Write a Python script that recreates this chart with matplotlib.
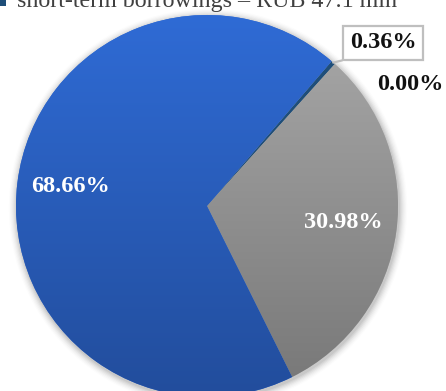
import numpy as np
import matplotlib
matplotlib.use("Agg")
import matplotlib.pyplot as plt
from matplotlib.patches import Circle, Rectangle

# Structure of borrowings, % of total
shares = [30.98, 68.66, 0.36, 0.00]
share_labels = ["30.98%", "68.66%", "0.36%", "0.00%"]
legend_label = "short-term borrowings – RUB 47.1 mln"

# Colour ramps (top, bottom) per slice
top_colors = ["#a9a9a9", "#2f6bd5", "#1f4e79", "#7f7f7f"]
bottom_colors = ["#777777", "#224d9c", "#1f4e79", "#7f7f7f"]

W, H = 446, 391
fig = plt.figure(figsize=(W / 100, H / 100), dpi=100)
ax = fig.add_axes([0, 0, 1, 1])

cx, cy, R = 207, 185, 191
serif = ["Liberation Serif", "DejaVu Serif"]

# soft drop shadow behind the pie
for i, a in enumerate(np.linspace(0.05, 0.012, 7)):
    ax.add_patch(Circle((cx + 1, cy - 2), R + 1 + i * 1.2, color="black",
                        alpha=a, lw=0, zorder=0))

wedges, _ = ax.pie(shares, center=(cx, cy), radius=R, startangle=48,
                   counterclock=False, colors=top_colors,
                   wedgeprops=dict(linewidth=0), frame=True)
ax.set_xlim(0, W)
ax.set_ylim(0, H)
ax.set_aspect("equal")
ax.axis("off")

# vertical gradient fill for the large slices
yy = np.linspace(0, 1, 256)[:, None]
for w, c0, c1 in zip(wedges, top_colors, bottom_colors):
    if w.theta2 - w.theta1 < 5:
        continue
    a = np.array(matplotlib.colors.to_rgb(c0))
    b = np.array(matplotlib.colors.to_rgb(c1))
    img = a[None, None, :] * (1 - yy[..., None]) + b[None, None, :] * yy[..., None]
    img = np.repeat(img, 2, axis=1)
    im = ax.imshow(img, extent=(cx - R, cx + R, cy - R, cy + R), origin="upper",
                   aspect="auto", zorder=w.get_zorder() + 0.1)
    im.set_clip_path(w)

# white labels inside the two big slices
for w, lab in zip(wedges[:2], share_labels[:2]):
    mid = np.deg2rad((w.theta1 + w.theta2) / 2)
    ax.text(cx + 0.72 * R * np.cos(mid), cy + 0.72 * R * np.sin(mid) + 2, lab,
            ha="center", va="center", color="white", fontsize=17.5,
            fontweight="bold", family=serif, zorder=5)

# boxed callout for the thin slice
thin = wedges[2]
ang = np.deg2rad((thin.theta1 + thin.theta2) / 2)
edge = (cx + R * np.cos(ang), cy + R * np.sin(ang))
ax.annotate(share_labels[2], xy=edge, xytext=(383, 348),
            ha="center", va="center", fontsize=17.5, fontweight="bold",
            family=serif, color="#111111", zorder=6,
            bbox=dict(boxstyle="square,pad=0.28", fc="white", ec="#bfbfbf", lw=1.6),
            arrowprops=dict(arrowstyle="-", color="#bfbfbf", lw=1.6,
                            shrinkA=0, shrinkB=0, relpos=(0.3, 0.0)))
ax.text(410, 306, share_labels[3], ha="center", va="center", fontsize=17.5,
        fontweight="bold", family=serif, color="#111111", zorder=6)

# legend entry, partly above the visible area
ax.add_patch(Rectangle((0, H - 6), 6, 10, color="#1f4e79", lw=0, zorder=6))
ax.text(17, H - 7, legend_label, ha="left", va="baseline", fontsize=17.3,
        family=serif, color="#404040", zorder=6)

fig.savefig("out.png", dpi=100)
